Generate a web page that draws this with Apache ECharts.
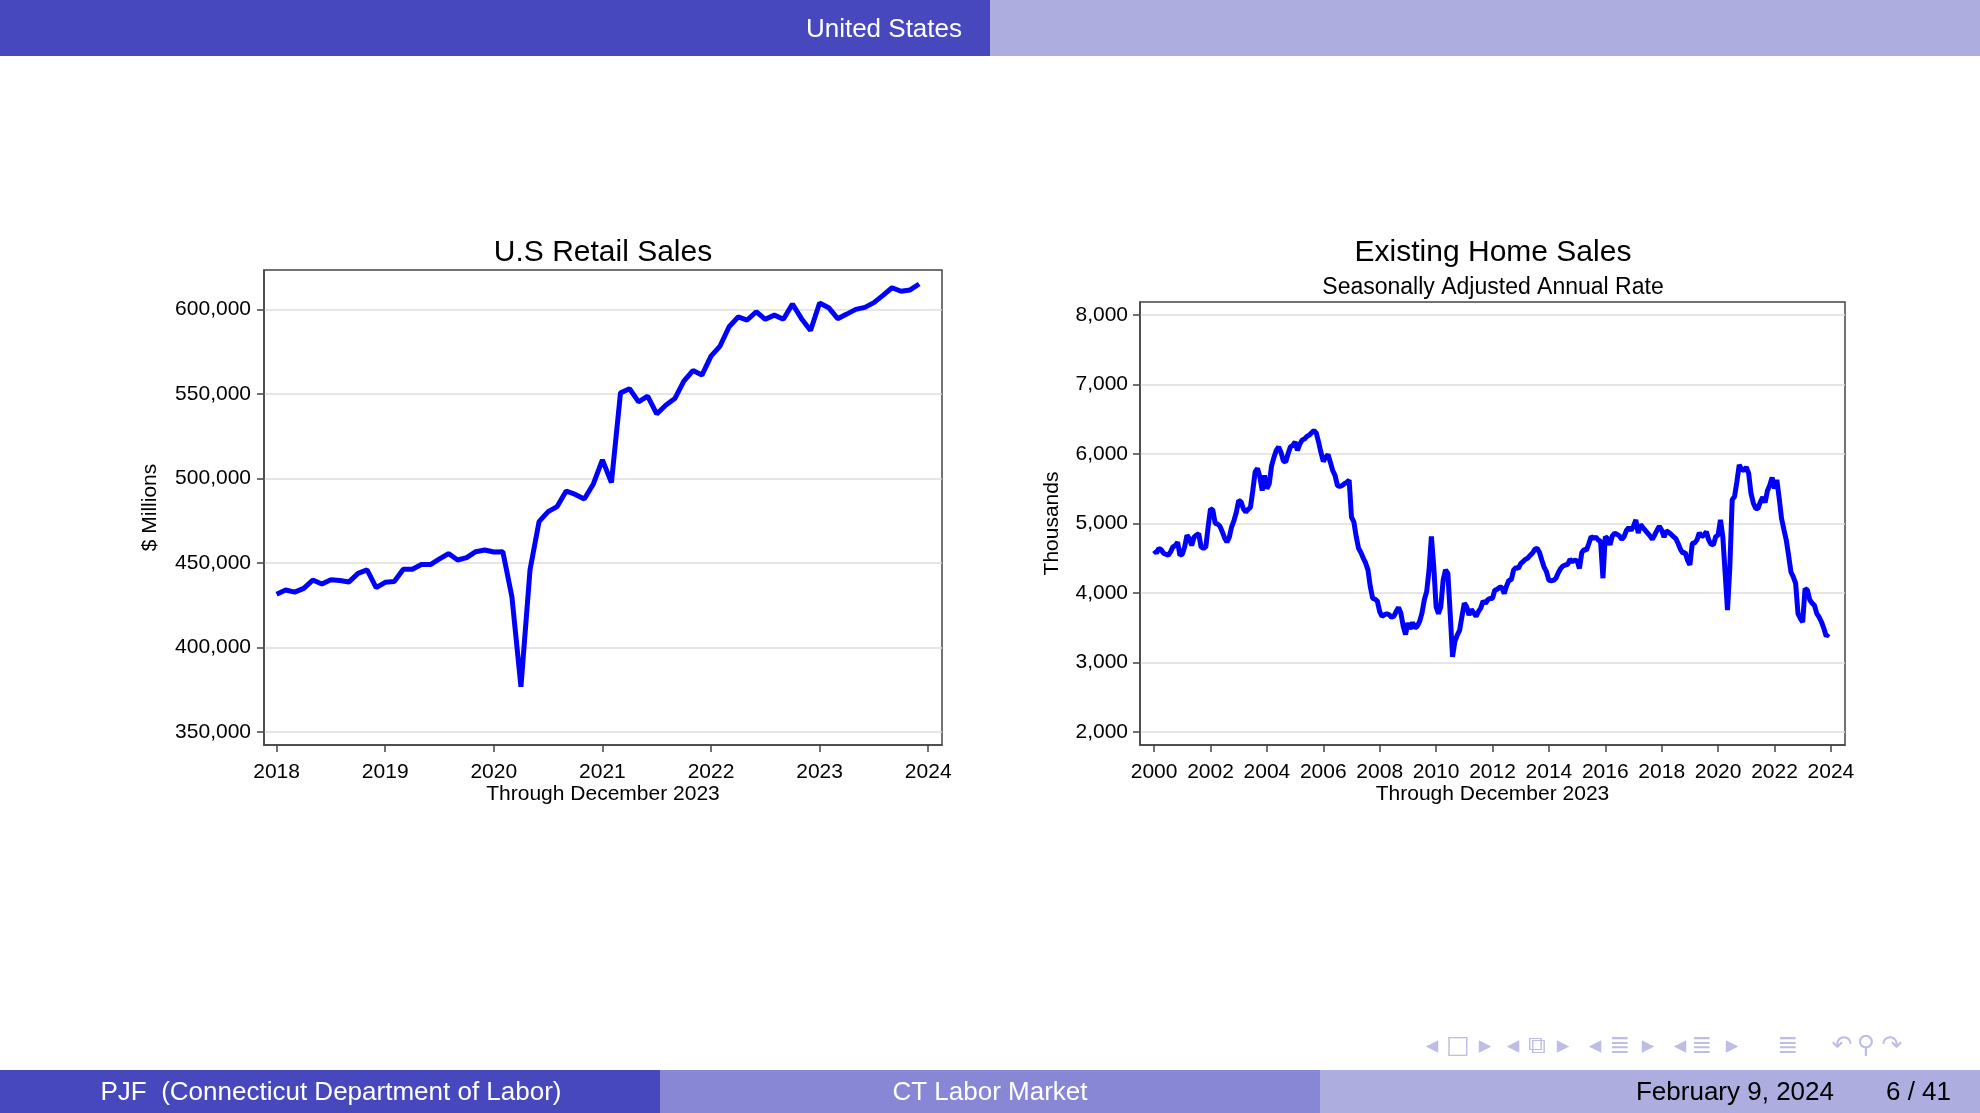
<!DOCTYPE html>
<html>
<head>
<meta charset="utf-8">
<title>United States</title>
<script src="https://cdn.jsdelivr.net/npm/echarts@6.0.0/dist/echarts.min.js"></script>
<style>
    html, body { margin: 0; padding: 0; background: #fff; }
    #main { width: 1980px; height: 1113px; }
</style>
</head>
<body>
<div id="main"></div>
<script>
// U.S retail sales, $ millions, monthly from Jan 2018
var retailStart = [2018, 1];
var retailSales = [
    431400, 433900, 432700, 434900, 439800, 437500, 440000, 439500, 438700, 443800, 445800, 435300,
    438500, 438900, 446200, 446200, 449000, 449000, 452300, 455500, 451700, 453100, 456600, 457600,
    456400, 456600, 430000, 376700, 445800, 474400, 480300, 483300, 492500, 490500, 487800, 496700,
    510900, 497500, 550600, 553000, 545300, 548600, 538100, 543300, 547200, 557500, 563800, 561100,
    572300, 578300, 589700, 595500, 593700, 598600, 594100, 596600, 594100, 603200, 594500, 587500,
    603800, 601000, 594500, 597200, 600000, 601200, 604000, 608300, 612800, 610700, 611500, 615000
];
var retailYTicks = [350000, 400000, 450000, 500000, 550000, 600000];
var retailXTicks = [2018, 2019, 2020, 2021, 2022, 2023, 2024];

// existing home sales, thousands SAAR, monthly from Jan 2000
var homeStart = [2000, 1];
var homeSales = [
    4610, 4570, 4640, 4620, 4570, 4555, 4540, 4590, 4660, 4680, 4730, 4540,
    4555, 4660, 4830, 4780, 4680, 4800, 4830, 4850, 4660, 4640, 4660, 4950,
    5210, 5190, 5000, 4990, 4960, 4880, 4790, 4730, 4800, 4950, 5040, 5160,
    5330, 5310, 5210, 5160, 5200, 5230, 5470, 5740, 5790, 5670, 5470, 5690,
    5500, 5570, 5830, 5950, 6050, 6100, 6020, 5900, 5880, 6000, 6100, 6120,
    6170, 6050, 6140, 6200, 6215, 6250, 6270, 6300, 6335, 6300, 6170, 6020,
    5890, 5950, 5990, 5880, 5760, 5690, 5545, 5530, 5545, 5570, 5590, 5620,
    5090, 5020, 4810, 4640, 4580, 4500, 4430, 4330, 4090, 3920, 3910, 3880,
    3730, 3660, 3685, 3700, 3685, 3650, 3660, 3730, 3790, 3710, 3520, 3400,
    3565, 3480, 3575, 3495, 3520, 3590, 3710, 3900, 4020, 4330, 4810, 4380,
    3800, 3700, 3800, 4180, 4330, 4280, 3700, 3080, 3300, 3390, 3460, 3660,
    3850, 3800, 3680, 3760, 3710, 3660, 3730, 3780, 3880, 3850, 3900, 3920,
    3920, 4040, 4050, 4080, 4080, 3990, 4100, 4180, 4190, 4330, 4365, 4350,
    4420, 4450, 4480, 4500, 4540, 4570, 4625, 4640, 4580, 4470, 4365, 4300,
    4180, 4175, 4180, 4210, 4290, 4350, 4385, 4400, 4410, 4480, 4450, 4470,
    4460, 4350, 4580, 4625, 4615, 4710, 4810, 4785, 4800, 4760, 4740, 4210,
    4810, 4780, 4690, 4820, 4860, 4840, 4820, 4770, 4810, 4900, 4940, 4900,
    4960, 5050, 4860, 4980, 4940, 4900, 4860, 4820, 4770, 4830, 4900, 4960,
    4900, 4800, 4890, 4870, 4840, 4810, 4780, 4710, 4625, 4570, 4580, 4470,
    4400, 4710, 4720, 4760, 4865, 4810, 4830, 4880, 4760, 4700, 4690, 4810,
    4830, 5050, 4810, 4280, 3750, 4375, 5340, 5385, 5600, 5840, 5780, 5760,
    5810, 5720, 5430, 5290, 5215, 5215, 5310, 5375, 5300, 5470, 5550, 5660,
    5500, 5625, 5360, 5070, 4910, 4760, 4540, 4300, 4230, 4135, 3700, 3630,
    3580, 4060, 4040, 3900, 3850, 3820, 3700, 3650, 3580, 3490, 3375, 3410
];
var homeYTicks = [2000, 3000, 4000, 5000, 6000, 7000, 8000];
var homeXTicks = [2000, 2002, 2004, 2006, 2008, 2010, 2012, 2014, 2016, 2018, 2020, 2022, 2024];

var fontName = 'Liberation Sans';
var dark = '#4747be';
var mid = '#8787d6';
var light = '#adade0';
var navColor = '#bdbde6';

function toPoints(start, values) {
    var pts = [];
    for (var i = 0; i < values.length; i++) {
        pts.push([start[0] + (start[1] - 1 + i) / 12, values[i]]);
    }
    return pts;
}

function commas(v) {
    return String(v).replace(/\B(?=(\d{3})+(?!\d))/g, ',');
}

function xAxisFor(grid, min, max, ticks) {
    return {
        type: 'value',
        gridIndex: grid,
        min: min,
        max: max,
        name: 'Through December 2023',
        nameLocation: 'middle',
        nameGap: 39,
        nameTextStyle: { fontSize: 21, color: '#000', fontFamily: fontName },
        axisLine: { show: true, lineStyle: { color: '#444', width: 1.5 } },
        axisTick: { show: true, length: 7, customValues: ticks, lineStyle: { color: '#444', width: 1.5 } },
        axisLabel: {
            customValues: ticks, margin: 17, fontSize: 21, color: '#000', fontFamily: fontName,
            formatter: function (v) { return String(v); }
        },
        splitLine: { show: false }
    };
}

function yAxisFor(grid, min, max, ticks, name, gap, margin) {
    return {
        type: 'value',
        gridIndex: grid,
        min: min,
        max: max,
        name: name,
        nameLocation: 'middle',
        nameGap: gap,
        nameTextStyle: { fontSize: 21, color: '#000', fontFamily: fontName },
        axisLine: { show: true, lineStyle: { color: '#444', width: 1.5 } },
        axisTick: { show: true, length: 7, customValues: ticks, lineStyle: { color: '#444', width: 1.5 } },
        axisLabel: {
            customValues: ticks, margin: margin, fontSize: 21, color: '#000', fontFamily: fontName,
            formatter: commas
        },
        splitLine: { show: true, lineStyle: { color: '#dcdcdc', width: 1.5 } }
    };
}

// beamer navigation symbols along the bottom right
var navSymbols = [
    ['◂', 1432], ['□', 1458], ['▸', 1485],
    ['◂', 1513], ['⧉', 1537], ['▸', 1563],
    ['◂', 1595], ['≣', 1620], ['▸', 1648],
    ['◂', 1680], ['≣', 1702], ['▸', 1732],
    ['≣', 1788], ['↶', 1842], ['⚲', 1866], ['↷', 1892]
];

function textEl(text, x, y, size, color, align) {
    return {
        type: 'text', x: x, y: y, z: 10,
        style: {
            text: text, fill: color, font: size + 'px "' + fontName + '"',
            align: align, verticalAlign: 'middle',
            textAlign: align, textVerticalAlign: 'middle'
        }
    };
}

var graphics = [
    { type: 'rect', shape: { x: 0, y: 0, width: 990, height: 56 }, style: { fill: dark } },
    { type: 'rect', shape: { x: 990, y: 0, width: 990, height: 56 }, style: { fill: light } },
    { type: 'rect', shape: { x: 0, y: 1070, width: 660, height: 43 }, style: { fill: dark } },
    { type: 'rect', shape: { x: 660, y: 1070, width: 660, height: 43 }, style: { fill: mid } },
    { type: 'rect', shape: { x: 1320, y: 1070, width: 660, height: 43 }, style: { fill: light } },
    textEl('United States', 962, 30, 26, '#fff', 'right'),
    textEl('PJF  (Connecticut Department of Labor)', 331, 1093, 26, '#fff', 'center'),
    textEl('CT Labor Market', 990, 1093, 26, '#fff', 'center'),
    textEl('February 9, 2024', 1834, 1093, 26, '#000', 'right'),
    textEl('6 / 41', 1951, 1093, 26, '#000', 'right')
];
navSymbols.forEach(function (s) {
    graphics.push({
        type: 'text', x: s[1], y: 1046, z: 10,
        style: {
            text: s[0], fill: navColor, font: '25px "DejaVu Sans"',
            align: 'center', verticalAlign: 'middle',
            textAlign: 'center', textVerticalAlign: 'middle'
        }
    });
});

var myChart = echarts.init(document.getElementById('main'), null, { renderer: 'canvas' });

var option = {
    backgroundColor: '#fff',
    animation: false,
    textStyle: { fontFamily: fontName },
    title: [
        {
            text: 'U.S Retail Sales', left: 603, top: 238, textAlign: 'center', padding: 0,
            textStyle: { fontSize: 30, fontWeight: 'normal', color: '#000', fontFamily: fontName }
        },
        {
            text: 'Existing Home Sales', subtext: 'Seasonally Adjusted Annual Rate',
            left: 1493, top: 238, textAlign: 'center', padding: 0, itemGap: 8,
            textStyle: { fontSize: 30, fontWeight: 'normal', color: '#000', fontFamily: fontName },
            subtextStyle: { fontSize: 23, color: '#000', fontFamily: fontName }
        }
    ],
    grid: [
        { left: 264, top: 270, width: 678, height: 475, show: true, borderColor: '#444', borderWidth: 1.5, backgroundColor: '#fff' },
        { left: 1140, top: 302, width: 705, height: 443, show: true, borderColor: '#444', borderWidth: 1.5, backgroundColor: '#fff' }
    ],
    xAxis: [
        xAxisFor(0, 2017.884, 2024.127, retailXTicks),
        xAxisFor(1, 1999.5, 2024.5, homeXTicks)
    ],
    yAxis: [
        yAxisFor(0, 342200, 623300, retailYTicks, '$ Millions', 103, 13),
        yAxisFor(1, 1810, 8185, homeYTicks, 'Thousands', 77, 12)
    ],
    series: [
        {
            name: 'U.S Retail Sales', type: 'line', xAxisIndex: 0, yAxisIndex: 0,
            data: toPoints(retailStart, retailSales),
            showSymbol: false, symbol: 'none',
            lineStyle: { color: '#0000ff', width: 5 }
        },
        {
            name: 'Existing Home Sales', type: 'line', xAxisIndex: 1, yAxisIndex: 1,
            data: toPoints(homeStart, homeSales),
            showSymbol: false, symbol: 'none',
            lineStyle: { color: '#0000ff', width: 5 }
        }
    ],
    graphic: graphics
};

if (option && typeof option === "object") {
    myChart.setOption(option, true);
}
</script>
</body>
</html>
